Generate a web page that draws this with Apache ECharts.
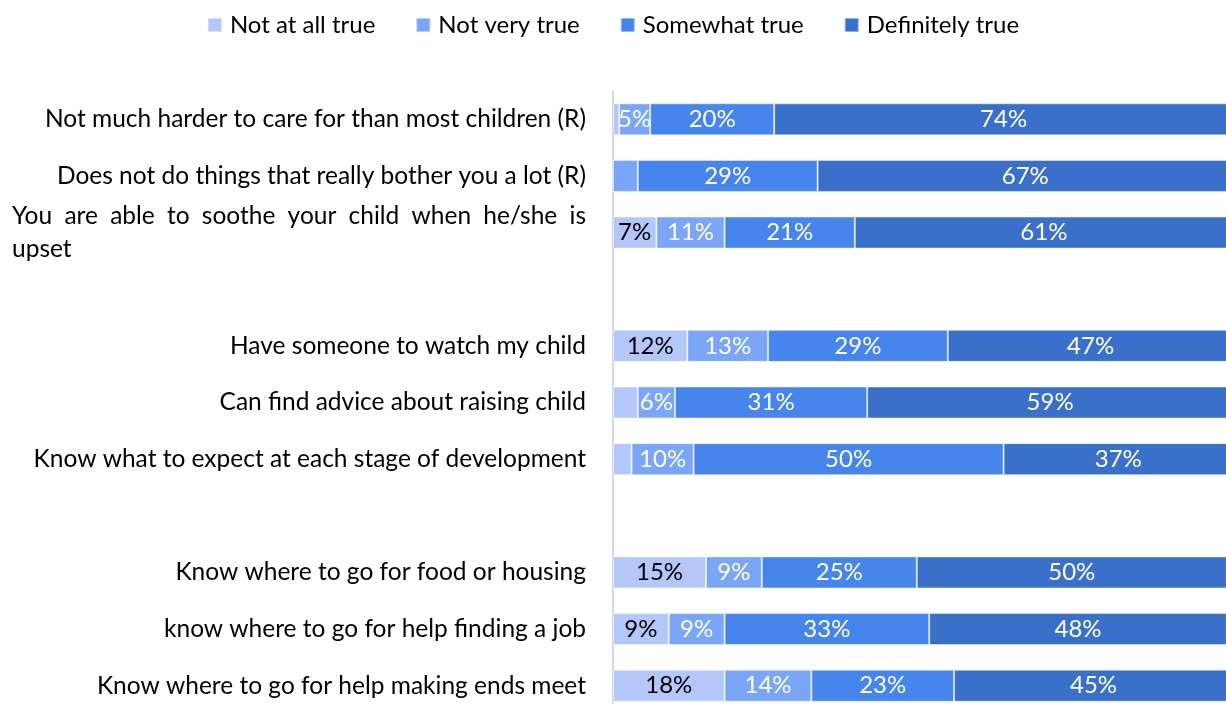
<!DOCTYPE html>
<html lang="en">

<head>
    <meta charset="UTF-8">
    <title>Parenting survey</title>
    <style>
        html, body { margin: 0; padding: 0; background: #fff; }
    </style>
</head>

<body>
    <div id="main" style="width: 1226px;height:704px;"></div>
    <script src="https://cdn.jsdelivr.net/npm/echarts@6/dist/echarts.min.js"></script>
    <script>
        var categories = [
            'Not much harder to care for than most children (R)',
            'Does not do things that really bother you a lot (R)',
            'You are able to soothe your child when he/she is\nupset',
            '',
            'Have someone to watch my child',
            'Can find advice about raising child',
            'Know what to expect at each stage of development',
            ' ',
            'Know where to go for food or housing',
            'know where to go for help finding a job',
            'Know where to go for help making ends meet'
        ];
        var seriesNames = ['Not at all true', 'Not very true', 'Somewhat true', 'Definitely true'];
        var notAtAll = [1, 0, 7, null, 12, 4, 3, null, 15, 9, 18];
        var notVery = [5, 4, 11, null, 13, 6, 10, null, 9, 9, 14];
        var somewhat = [20, 29, 21, null, 29, 31, 50, null, 25, 33, 23];
        var definitely = [74, 67, 61, null, 47, 59, 37, null, 50, 48, 45];
        var colors = ['#b4c7fb', '#7ba6f7', '#4585ec', '#3a70c9'];
        var labelColors = ['#000', '#fff', '#fff', '#fff'];

        var font = 'Lato';
        var fs = 24;
        var axisFs = 24.5;
        var labelBox = 574; // width of the wrapped label block

        // the original justifies the first line of the wrapped label
        var ctx = document.createElement('canvas').getContext('2d');
        ctx.font = axisFs + 'px ' + font;
        var firstWords = categories[2].split('\n')[0].split(' ');
        var used = 0;
        firstWords.forEach(function (w) { used += ctx.measureText(w).width; });
        var gapWidth = (labelBox - used) / (firstWords.length - 1);

        var myChart = echarts.init(document.getElementById('main'));

        var values = [notAtAll, notVery, somewhat, definitely];
        var series = values.map(function (arr, i) {
            return {
                name: seriesNames[i],
                type: 'bar',
                stack: 'total',
                barWidth: 32,
                data: arr,
                itemStyle: {
                    color: colors[i],
                    borderColor: 'rgba(255,255,255,0.45)',
                    borderWidth: 1
                },
                label: {
                    show: true,
                    position: 'inside',
                    color: labelColors[i],
                    fontFamily: font,
                    fontSize: fs,
                    formatter: function (p) {
                        return p.value >= 5 ? p.value + '%' : '';
                    }
                }
            };
        });

        var option = {
            animation: false,
            legend: {
                top: 8,
                left: 'center',
                itemWidth: 14,
                itemHeight: 14,
                itemGap: 40,
                icon: 'rect',
                textStyle: { fontFamily: font, fontSize: fs, color: '#000', padding: [0, 0, 0, 3] },
                data: seriesNames
            },
            grid: {
                left: 613,
                top: 91,
                width: 620,
                height: 623,
                outerBoundsMode: 'none',
                containLabel: false
            },
            xAxis: {
                type: 'value',
                min: 0,
                max: 100,
                show: false
            },
            yAxis: {
                type: 'category',
                inverse: true,
                data: categories,
                axisLine: { show: true, lineStyle: { color: '#d9d9d9', width: 2 } },
                axisTick: { show: false },
                axisLabel: {
                    margin: 27,
                    color: '#000',
                    fontFamily: font,
                    fontSize: axisFs,
                    formatter: function (v) {
                        if (v.indexOf('\n') >= 0) {
                            var lines = v.split('\n');
                            var first = lines[0].split(' ').map(function (w) { return '{w|' + w + '}'; }).join('{g|}');
                            return first + '\n{l|' + lines[1] + '}';
                        }
                        return v;
                    },
                    rich: {
                        w: { fontFamily: font, fontSize: axisFs, color: '#000', lineHeight: 33 },
                        g: { width: gapWidth, lineHeight: 33 },
                        l: { width: labelBox, align: 'left', fontFamily: font, fontSize: axisFs, color: '#000', lineHeight: 33 }
                    }
                }
            },
            series: series
        };
        myChart.setOption(option);
    </script>
</body>

</html>
